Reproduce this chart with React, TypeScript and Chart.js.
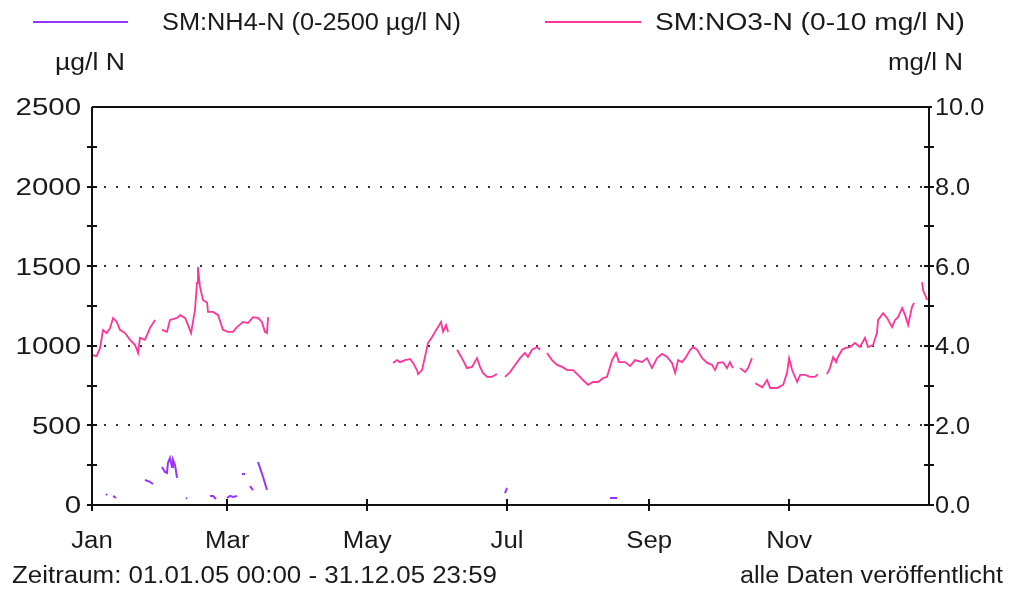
import React, { useEffect, useRef } from 'react';
import { Chart, registerables } from 'chart.js';

Chart.register(...registerables);

// ---- Data (day of year 2005, value) ----
const no3Days: number[] = [
  0, 2.0, 3.5, 4.8, 6.4, 7.9, 9.2, 10.8, 12.2, 14.4, 16.6, 18.8, 20.1, 20.9, 23.1, 25.3, 27.5,
  29,
  30.5, 32.7, 34.0, 37.1, 38.4, 40.6, 41.9, 43.2, 44.9, 45.8, 46.2, 47.1, 48.4, 50.2, 50.6, 52.8, 55.0, 57.1, 59.3, 61.5, 63.2, 65.9, 68.0, 70.2, 72.4, 74.1, 75.4, 76.3, 76.8,
  78,
  131.3, 133.0, 134.3, 136.5, 138.7, 140.0, 141.7, 142.2, 143.9, 145.2, 146.5, 148.3, 149.6, 150.9, 152.2, 153.1, 154.4, 155.3,
  156.5,
  159.2, 160.5, 161.8, 163.5, 165.7, 167.9, 169.2, 170.5, 172.3, 174.4, 176.6,
  178,
  180.1, 182.3, 184.5, 186.7, 188.8, 190.1, 191.9, 194.1, 195.4,
  196.8,
  198.4, 200.6, 202.8, 205.0, 207.2, 209.8, 212.8, 214.1, 216.3, 218.5, 220.7, 222.9, 224.6, 226.8, 228.5, 229.8, 232.5, 234.7, 236.8, 239.9, 242.0, 244.2, 246.4, 248.6, 250.8, 252.9, 254.3, 255.6, 257.3, 258.7, 260.9, 262.1, 263.9, 266.1, 268.3, 270.4, 271.7, 273.0, 275.2, 276.9, 278.2, 279.5,
  281,
  282.6, 284.8, 286.1, 287.8,
  288.5,
  289.2, 292.3, 294.4, 295.7, 298.7, 301.4, 303.1, 304.0, 305.3, 307.5, 308.8, 311.0, 313.1, 315.3, 316.6,
  318.5,
  320.5, 321.8, 323.2, 324.5, 325.3, 327.1, 328.4, 330.6, 332.7, 334.9, 337.1, 338.4, 340.6, 342.3, 342.8, 345.0, 346.7, 348.9, 350.2, 351.5, 353.3, 354.6, 355.9, 357.6, 358.5,
  359.8,
  362.0, 362.4, 364.2,
];
const no3Values: (number | null)[] = [
  3.77, 3.74, 3.94, 4.40, 4.32, 4.45, 4.70, 4.60, 4.40, 4.32, 4.15, 4.02, 3.82, 4.20, 4.15, 4.45, 4.65,
  null,
  4.40, 4.35, 4.65, 4.70, 4.77, 4.70, 4.52, 4.32, 4.90, 5.58, 5.98, 5.48, 5.15, 5.08, 4.85, 4.85, 4.77, 4.40, 4.35, 4.35, 4.47, 4.60, 4.57, 4.72, 4.70, 4.60, 4.35, 4.32, 4.72,
  null,
  3.57, 3.64, 3.59, 3.64, 3.67, 3.57, 3.39, 3.29, 3.39, 3.72, 4.07, 4.22, 4.35, 4.47, 4.60, 4.35, 4.52, 4.35,
  null,
  3.90, 3.77, 3.64, 3.44, 3.47, 3.69, 3.47, 3.32, 3.22, 3.22, 3.29,
  null,
  3.22, 3.34, 3.52, 3.69, 3.82, 3.72, 3.90, 3.97, 3.90,
  null,
  3.82, 3.64, 3.52, 3.47, 3.39, 3.39, 3.22, 3.14, 3.02, 3.09, 3.09, 3.19, 3.22, 3.64, 3.82, 3.59, 3.59, 3.49, 3.64, 3.59, 3.69, 3.44, 3.69, 3.80, 3.72, 3.57, 3.32, 3.64, 3.59, 3.69, 3.90, 3.97, 3.90, 3.69, 3.57, 3.52, 3.39, 3.57, 3.59, 3.44, 3.59, 3.44,
  null,
  3.44, 3.34, 3.44, 3.69,
  null,
  3.06, 2.96, 3.14, 2.94, 2.94, 3.02, 3.32, 3.69, 3.39, 3.09, 3.27, 3.27, 3.22, 3.22, 3.29,
  null,
  3.29, 3.44, 3.72, 3.59, 3.72, 3.90, 3.94, 3.97, 4.07, 3.97, 4.20, 3.97, 4.02, 4.32, 4.65, 4.82, 4.70, 4.47, 4.65, 4.72, 4.95, 4.77, 4.52, 4.98, 5.08,
  null,
  5.60, 5.40, 5.15,
];

const nh4Days: number[] = [
  6.1, 6.6, 7.5, 9.2, 10.5, 12,
  23.1, 25.3, 26.6, 28,
  30.5, 31.8, 32.7, 33.1, 34.0, 34.9, 35.3, 36.2, 37.1, 38,
  41.0, 41.5, 42.5,
  51.5, 52.8, 54.1, 55,
  58.9, 60.2, 61.5, 63.2, 64,
  65.4, 66.7, 67.5,
  68.9, 70.2, 71.3,
  72.4, 73.3, 74.6, 75.4, 76.3, 77,
  180.1, 181.0, 182,
  225.9, 229.0,
];
const nh4Values: (number | null)[] = [
  69, 62, null, 57, 44, null,
  157, 145, 132, null,
  239, 207, 201, 264, 295, 239, 283, 251, 170, null,
  44, 40, null,
  57, 57, 38, null,
  44, 57, 50, 57, null,
  195, 195, null,
  119, 94, null,
  270, 232, 176, 138, 94, null,
  75, 107, null,
  44, 44,
];

const monthTickDays = [0, 59, 120, 181, 243, 304];
const monthTickLabels = ['Jan', 'Mar', 'May', 'Jul', 'Sep', 'Nov'];
const leftMax = 2500;
const leftStep = 250;
const leftLabelStep = 500;
const rightMax = 10;
const rightStep = 1;
const rightLabelStep = 2;

const seriesNames = ['SM:NH4-N (0-2500 µg/l N)', 'SM:NO3-N (0-10 mg/l N)'];
const unitLeft = 'µg/l N';
const unitRight = 'mg/l N';
const footerLeft = 'Zeitraum: 01.01.05 00:00 - 31.12.05 23:59';
const footerRight = 'alle Daten veröffentlicht';

const NH4_COLOR = '#9933ff';
const NO3_COLOR = '#ff3399';
const FONT = '23px "Liberation Sans", Arial, sans-serif';

function drawText(
  ctx: CanvasRenderingContext2D,
  text: string,
  x: number,
  y: number,
  align: CanvasTextAlign,
  opts: { width?: number; sx?: number } = {}
) {
  ctx.save();
  ctx.font = FONT;
  const w = ctx.measureText(text).width;
  const sx = opts.width ? opts.width / w : opts.sx ?? 1.12;
  ctx.translate(x, y);
  ctx.scale(sx, 1);
  ctx.textAlign = align;
  ctx.textBaseline = 'middle';
  ctx.fillStyle = '#1a1a1a';
  ctx.fillText(text, 0, 0);
  ctx.restore();
}

const decorPlugin = {
  id: 'decor',
  beforeDatasetsDraw(chart: any) {
    const { ctx, chartArea } = chart;
    const yS = chart.scales.y;
    ctx.save();
    ctx.fillStyle = '#333';
    for (let v = leftLabelStep; v < leftMax; v += leftLabelStep) {
      const py = Math.round(yS.getPixelForValue(v));
      for (let px = chartArea.left + 12; px < chartArea.right - 4; px += 12) {
        ctx.fillRect(px, py - 1, 2, 2);
      }
    }
    ctx.restore();
  },
  afterDatasetsDraw(chart: any) {
    const { ctx, chartArea } = chart;
    const { left, right, top, bottom } = chartArea;
    const yS = chart.scales.y;
    const y1S = chart.scales.y1;
    const xS = chart.scales.x;
    ctx.save();
    ctx.strokeStyle = '#111';
    ctx.lineWidth = 2;
    ctx.beginPath();
    ctx.moveTo(left, top);
    ctx.lineTo(right + 2, top);
    ctx.moveTo(left, top);
    ctx.lineTo(left, bottom);
    ctx.moveTo(right, top);
    ctx.lineTo(right, bottom);
    ctx.moveTo(left - 4, bottom);
    ctx.lineTo(right, bottom);
    yS.ticks.forEach((t: any) => {
      const py = Math.round(yS.getPixelForValue(t.value));
      if (t.value === leftMax) return;
      ctx.moveTo(left - 5, py);
      ctx.lineTo(left + 5, py);
    });
    y1S.ticks.forEach((t: any) => {
      const py = Math.round(y1S.getPixelForValue(t.value));
      if (t.value === rightMax) {
        ctx.moveTo(right, py);
        ctx.lineTo(right + 3, py);
        return;
      }
      ctx.moveTo(right - 5, py);
      ctx.lineTo(right + 5, py);
    });
    xS.ticks.forEach((t: any) => {
      const px = Math.round(xS.getPixelForValue(t.value));
      ctx.moveTo(px, bottom - 6);
      ctx.lineTo(px, bottom + 6);
    });
    ctx.stroke();
    ctx.restore();
  },
  afterDraw(chart: any) {
    const { ctx, chartArea } = chart;
    const yS = chart.scales.y;
    const y1S = chart.scales.y1;
    const xS = chart.scales.x;
    // legend
    ctx.save();
    ctx.lineWidth = 2;
    ctx.strokeStyle = NH4_COLOR;
    ctx.beginPath();
    ctx.moveTo(33, 22);
    ctx.lineTo(128, 22);
    ctx.stroke();
    ctx.strokeStyle = NO3_COLOR;
    ctx.beginPath();
    ctx.moveTo(545, 22);
    ctx.lineTo(641, 22);
    ctx.stroke();
    ctx.restore();
    drawText(ctx, seriesNames[0], 162, 24, 'left', { width: 299 });
    drawText(ctx, seriesNames[1], 655, 24, 'left', { width: 310 });
    drawText(ctx, unitLeft, 55, 64, 'left', { width: 70 });
    drawText(ctx, unitRight, 963, 64, 'right', { width: 75 });
    // tick labels
    yS.ticks.forEach((t: any) => {
      if (t.value % leftLabelStep !== 0) return;
      drawText(ctx, String(t.value), chartArea.left - 11, yS.getPixelForValue(t.value) + 2, 'right', { sx: 1.28 });
    });
    y1S.ticks.forEach((t: any) => {
      if (Math.round(t.value) % rightLabelStep !== 0) return;
      drawText(ctx, Number(t.value).toFixed(1), chartArea.right + 6, y1S.getPixelForValue(t.value) + 2, 'left', { sx: 1.1 });
    });
    xS.ticks.forEach((t: any, i: number) => {
      drawText(ctx, monthTickLabels[i], xS.getPixelForValue(t.value), chartArea.bottom + 37, 'center', { sx: 1.12 });
    });
    drawText(ctx, footerLeft, 12, 577, 'left', { width: 485 });
    drawText(ctx, footerRight, 1003, 577, 'right', { width: 263 });
  },
};

export default function App() {
  const ref = useRef<HTMLCanvasElement | null>(null);
  useEffect(() => {
    if (!ref.current) return;
    const chart = new Chart(ref.current, {
      type: 'line',
      data: {
        datasets: [
          {
            label: seriesNames[0],
            data: nh4Days.map((d, i) => ({ x: d, y: nh4Values[i] })) as any,
            borderColor: NH4_COLOR,
            backgroundColor: NH4_COLOR,
            borderWidth: 2,
            pointRadius: 0,
            tension: 0,
            spanGaps: false,
            yAxisID: 'y',
          },
          {
            label: seriesNames[1],
            data: no3Days.map((d, i) => ({ x: d, y: no3Values[i] })) as any,
            borderColor: NO3_COLOR,
            backgroundColor: NO3_COLOR,
            borderWidth: 1.8,
            pointRadius: 0,
            tension: 0,
            spanGaps: false,
            yAxisID: 'y1',
          },
        ],
      },
      options: {
        animation: false,
        responsive: false,
        devicePixelRatio: 1,
        layout: { padding: { top: 107, left: 0, right: 0, bottom: 0 } },
        plugins: { legend: { display: false }, tooltip: { enabled: false } },
        events: [],
        scales: {
          x: {
            type: 'linear',
            min: 0,
            max: 365,
            position: 'bottom',
            grid: { display: false },
            border: { display: false },
            ticks: { display: false },
            afterBuildTicks: (s: any) => {
              s.ticks = monthTickDays.map((v) => ({ value: v }));
            },
            afterFit: (s: any) => {
              s.height = 87;
            },
          },
          y: {
            type: 'linear',
            position: 'left',
            min: 0,
            max: leftMax,
            grid: { display: false },
            border: { display: false },
            ticks: { display: false, stepSize: leftStep },
            afterFit: (s: any) => {
              s.width = 92;
            },
          },
          y1: {
            type: 'linear',
            position: 'right',
            min: 0,
            max: rightMax,
            grid: { display: false },
            border: { display: false },
            ticks: { display: false, stepSize: rightStep },
            afterFit: (s: any) => {
              s.width = 81;
            },
          },
        },
      } as any,
      plugins: [decorPlugin],
    });
    return () => chart.destroy();
  }, []);
  return (
    <div style={{ position: 'fixed', left: 0, top: 0, width: 1010, height: 592, background: '#fff' }}>
      <canvas ref={ref} width={1010} height={592} style={{ display: 'block', width: 1010, height: 592 }} />
    </div>
  );
}
